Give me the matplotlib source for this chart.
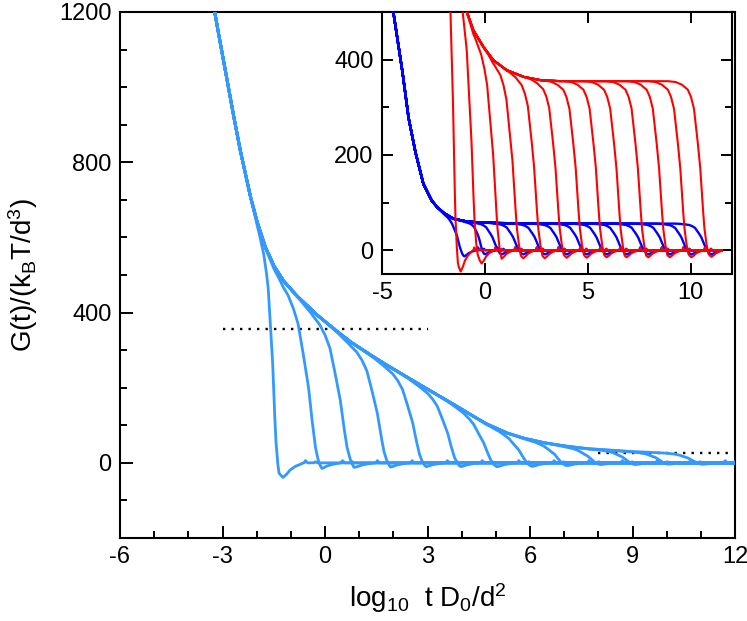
import numpy as np
import matplotlib
matplotlib.use("Agg")
import matplotlib.pyplot as plt
from matplotlib.ticker import MultipleLocator

plt.rcParams['font.family'] = ['Liberation Sans', 'DejaVu Sans']
plt.rcParams['mathtext.fontset'] = 'custom'
plt.rcParams['mathtext.rm'] = 'Liberation Sans'
plt.rcParams['mathtext.it'] = 'Liberation Sans:italic'
plt.rcParams['axes.unicode_minus'] = False

# ---------------- data ----------------
# main panel: common envelope G(t) (log10 t, G)
env_x = [-3.5, -3.22, -3.0, -2.75, -2.5, -2.2, -2.0, -1.75, -1.5, -1.22, -0.83,
         -0.25, 0.24, 0.73, 1.2, 1.7, 2.68, 3.65, 4.14, 4.7, 5.31, 5.8, 6.38,
         7.0, 7.64, 8.3, 9.01, 10.28, 12.0]
env_g = [1340, 1195, 1085, 960, 840, 715, 645, 575, 525, 485, 445,
         395, 358, 323, 295, 266, 213, 162, 135, 105, 80, 66, 54,
         45, 38, 34, 30, 26, 23]
# position (log10 t) where each branch has fallen to half, width factor,
# position of the undershoot and its depth
main_half = [-1.53, -0.49, 0.44, 1.52, 2.56, 3.58, 4.64, 5.67, 6.70, 7.68, 8.70, 9.68, 10.63]
main_width = [0.45, 1.0, 1.0, 1.0, 1.0, 1.0, 1.0, 1.0, 1.0, 1.0, 1.0, 1.0, 1.0]
main_dip = [-1.23, -0.15, 0.87, 1.89, 2.92, 3.94, 5.01, 6.04, 7.06, 8.04, 9.06, 10.03, 11.05]
main_depth = [39, 17, 12, 12, 11, 11, 11, 10, 8, 5, 5, 4, 4]

# inset, red family
red_env_x = [-2.0, -1.7, -1.4, -1.0, -0.57, -0.08, 0.40, 1.05, 1.86, 2.67, 3.5, 12.0]
red_env_g = [900, 700, 600, 515, 462, 427, 399, 378, 364, 357, 355, 355]
red_half = [-1.56, -0.66, 0.40, 1.34, 2.38, 3.42, 4.40, 5.38, 6.38, 7.42, 8.45, 9.48, 10.45]
red_width = [0.6, 0.75, 1.0, 1.0, 1.0, 1.0, 1.0, 1.0, 1.0, 1.0, 1.0, 1.0, 1.0]
red_dip = [-1.18, -0.16, 0.81, 1.86, 2.91, 3.97, 4.94, 5.91, 6.88, 7.93, 8.98, 10.03, 11.0]
red_depth = [45, 28, 18, 17, 17, 16, 16, 15, 15, 15, 15, 15, 14]

# inset, blue family
blue_env_x = [-4.8, -4.45, -4.04, -3.72, -3.40, -3.0, -2.6, -2.34, -2.0, -1.54, -1.0, -0.57, 0.5, 2.0, 12.0]
blue_env_g = [640, 500, 385, 280, 210, 140, 105, 91, 78, 66, 61, 59, 57, 56, 56]
blue_half = [-1.37, -0.30, 0.35, 1.36, 2.41, 3.47, 4.44, 5.41, 6.38, 7.43, 8.48, 9.53, 10.50]
blue_width = [0.8, 0.8, 1.0, 1.0, 1.0, 1.0, 1.0, 1.0, 1.0, 1.0, 1.0, 1.0, 1.0]
blue_dip = [-1.0, -0.05, 0.81, 1.86, 2.91, 3.97, 4.94, 5.91, 6.88, 7.93, 8.98, 10.03, 11.0]
blue_depth = [13, 10, 9, 9, 9, 9, 9, 9, 9, 9, 9, 9, 9]

# shape of the fall (fraction remaining vs offset from half point)
prof_u = [-1.6, -1.2, -0.9, -0.6, -0.45, -0.3, -0.15, 0.0, 0.1, 0.2, 0.3, 0.4]
prof_f = [1.0, 0.995, 0.98, 0.95, 0.91, 0.84, 0.68, 0.5, 0.31, 0.14, 0.05, 0.0]
# shape of the undershoot (fraction of depth vs offset from dip)
dip_u = [-0.35, -0.2, -0.1, 0.0, 0.1, 0.2, 0.35, 0.5, 0.6]
dip_f = [0.0, 0.3, 0.75, 1.0, 0.8, 0.5, 0.25, 0.1, 0.0]
# small ripple after the undershoot (G units vs offset from dip)
rip_u = [0.55, 0.62, 0.66, 0.72, 0.9, 0.95, 1.0]
rip_g = [0.0, 0.0, 6.0, 0.0, 0.0, 3.0, 0.0]

# dotted reference levels
dot1_x = [-3.0, 3.0]
dot1_g = [355, 355]
dot2_x = [8.0, 11.8]
dot2_g = [26, 26]


def branch(x, ex, eg, half, width, dip, depth):
    g = np.interp(x, ex, eg) * np.interp((x - half) / width, prof_u, prof_f, left=1.0, right=0.0)
    g = g - depth * np.interp(x - dip, dip_u, dip_f, left=0.0, right=0.0)
    g = g + np.interp(x - dip, rip_u, rip_g, left=0.0, right=0.0)
    return g


fig = plt.figure(figsize=(7.47, 6.21), dpi=100)
ax = fig.add_axes([120 / 747, 1 - 538 / 621, 615 / 747, 526 / 621])

main_col = '#3399ff'
xm = np.linspace(-3.5, 12.0, 4000)
for h, w, d, D in zip(main_half, main_width, main_dip, main_depth):
    ax.plot(xm, branch(xm, env_x, env_g, h, w, d, D), color=main_col, lw=2.0, zorder=3)

ax.plot(dot1_x, dot1_g, color='black', lw=1.7, ls=(0, (1, 2.6)), zorder=2)
ax.plot(dot2_x, dot2_g, color='black', lw=1.7, ls=(0, (1, 2.6)), zorder=2)

ax.set_xlim(-6, 12)
ax.set_ylim(-200, 1200)
ax.xaxis.set_major_locator(MultipleLocator(3))
ax.xaxis.set_minor_locator(MultipleLocator(1))
ax.yaxis.set_major_locator(MultipleLocator(400))
ax.yaxis.set_minor_locator(MultipleLocator(100))
ax.tick_params(which='both', direction='in', width=1.4, labelsize=17)
ax.tick_params(which='major', length=9, pad=6)
ax.tick_params(which='minor', length=5)
for s in ax.spines.values():
    s.set_linewidth(1.5)
ax.set_xlabel(r'log$_\mathregular{10}$  t D$_\mathregular{0}$/d$^\mathregular{2}$', fontsize=20, labelpad=9)
ax.set_ylabel(r'G(t)/(k$_\mathregular{B}$T/d$^\mathregular{3}$)', fontsize=20, labelpad=14)

# ---------------- inset ----------------
ins = fig.add_axes([382 / 747, 1 - 274 / 621, 350 / 747, 262 / 621])
xb = np.linspace(-4.8, 11.5, 4000)
for h, w, d, D in zip(blue_half, blue_width, blue_dip, blue_depth):
    ins.plot(xb, branch(xb, blue_env_x, blue_env_g, h, w, d, D), color='#0000ff', lw=1.7, zorder=3)
xr = np.linspace(-2.0, 11.5, 4000)
for h, w, d, D in zip(red_half, red_width, red_dip, red_depth):
    ins.plot(xr, branch(xr, red_env_x, red_env_g, h, w, d, D), color='#ff0000', lw=1.5, zorder=4)

ins.set_xlim(-5, 12)
ins.set_ylim(-50, 500)
ins.xaxis.set_major_locator(MultipleLocator(5))
ins.yaxis.set_major_locator(MultipleLocator(200))
ins.yaxis.set_minor_locator(MultipleLocator(100))
ins.tick_params(which='both', direction='in', width=1.4, labelsize=17, top=True, right=True)
ins.tick_params(which='major', length=8, pad=6)
ins.tick_params(which='minor', length=5)
for s in ins.spines.values():
    s.set_linewidth(1.5)

fig.savefig('out.png', dpi=100)
